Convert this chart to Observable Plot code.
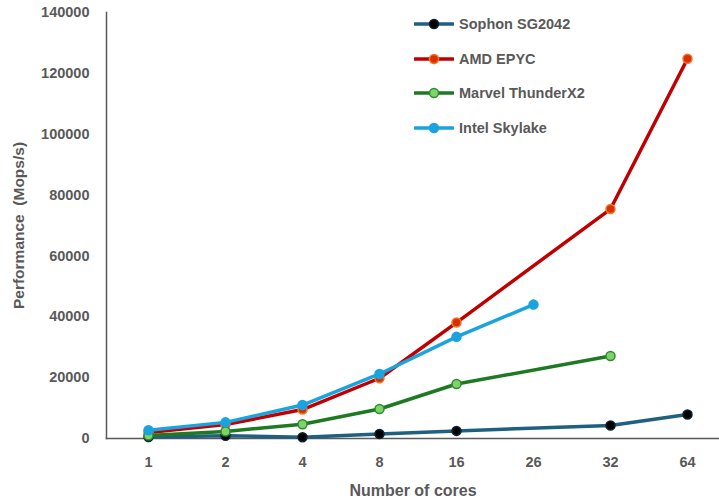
<!DOCTYPE html>
<html>
<head>
<meta charset="utf-8">
<script src="https://cdn.jsdelivr.net/npm/d3@7"></script>
<script src="https://cdn.jsdelivr.net/npm/@observablehq/plot@0.6"></script>
<style>
  body { margin: 0; background: #fff; }
  #wrap { position: relative; width: 719px; height: 501px; font-family: "Liberation Sans", Arial, sans-serif; }
  #legend { position: absolute; left: 414px; top: 15px; }
  .item { display: flex; align-items: center; height: 34.5px; margin-top: -8px; margin-bottom: 8px; }
  .item span { font-weight: bold; font-size: 14.5px; color: #595959; margin-left: 5px; }
</style>
</head>
<body>
<div id="wrap"><div id="legend"></div></div>
<script>
const cores = ["1", "2", "4", "8", "16", "26", "32", "64"];
const seriesNames = ["Sophon SG2042", "AMD EPYC", "Marvel ThunderX2", "Intel Skylake"];
const sophon = [500, 900, 400, 1500, 2500, null, 4300, 7900];
const amd = [2000, 4600, 9500, 19800, 38100, null, 75400, 124800];
const marvel = [1000, 2300, 4700, 9700, 17900, null, 27100, null];
const intel = [2700, 5300, 11000, 21200, 33400, 44000, null, null];
const yTicks = [0, 20000, 40000, 60000, 80000, 100000, 120000, 140000];

const lineColors = ["#1F5F80", "#C00000", "#1E7A22", "#1AA3DE"];
const dotFills = ["#000000", "#D83000", "#7FD36B", "#1AA3DE"];
const dotStrokes = ["#102030", "#F07828", "#2E8B30", "#1AA3DE"];

const allSeries = [sophon, amd, marvel, intel];
const rows = allSeries.map((vals, i) =>
  cores.map((c, j) => ({series: seriesNames[i], cores: c, value: vals[j]})).filter(d => d.value != null)
);

const marks = [];
rows.forEach((data, i) => {
  marks.push(Plot.line(data, {x: "cores", y: "value", stroke: lineColors[i], strokeWidth: 3.5}));
  marks.push(Plot.dot(data, {x: "cores", y: "value", r: 4.5, fill: dotFills[i], stroke: dotStrokes[i], strokeWidth: 1.5}));
});

const chart = Plot.plot({
  width: 719,
  height: 501,
  marginLeft: 106,
  marginRight: 0,
  marginTop: 12,
  marginBottom: 63,
  style: {fontFamily: "'Liberation Sans', Arial, sans-serif", fontWeight: "bold", fontSize: "14.5px", color: "#595959"},
  x: {type: "point", domain: cores, range: [146, 688], padding: 0},
  y: {domain: [0, 140000], ticks: yTicks},
  marks: [
    Plot.frame({anchor: "left", stroke: "#595959", strokeWidth: 1.5}),
    Plot.frame({anchor: "bottom", stroke: "#595959", strokeWidth: 1.5}),
    Plot.axisX({tickSize: 0, tickPadding: 18, label: null, fontSize: 14.5}),
    Plot.axisY({ticks: yTicks, tickSize: 0, tickPadding: 17, tickFormat: d3.format("d"), label: null, fontSize: 14.5}),
    Plot.text(["Number of cores"], {frameAnchor: "bottom", dy: 52, fontSize: 16, fontWeight: "bold", fill: "#595959", lineAnchor: "middle"}),
    Plot.text(["Performance  (Mops/s)"], {frameAnchor: "left", dx: -87, rotate: -90, fontSize: 15.5, fontWeight: "bold", fill: "#595959", lineAnchor: "middle", textAnchor: "middle", style: "white-space: pre"}),
    ...marks
  ]
});
document.getElementById("wrap").prepend(chart);

const legend = document.getElementById("legend");
seriesNames.forEach((name, i) => {
  const item = document.createElement("div");
  item.className = "item";
  item.innerHTML = `<svg width="40" height="14"><line x1="1" y1="7" x2="39" y2="7" stroke="${lineColors[i]}" stroke-width="3.5" stroke-linecap="round"/><circle cx="20" cy="7" r="4.5" fill="${dotFills[i]}" stroke="${dotStrokes[i]}" stroke-width="1.5"/></svg><span>${name}</span>`;
  legend.appendChild(item);
});
</script>
</body>
</html>
